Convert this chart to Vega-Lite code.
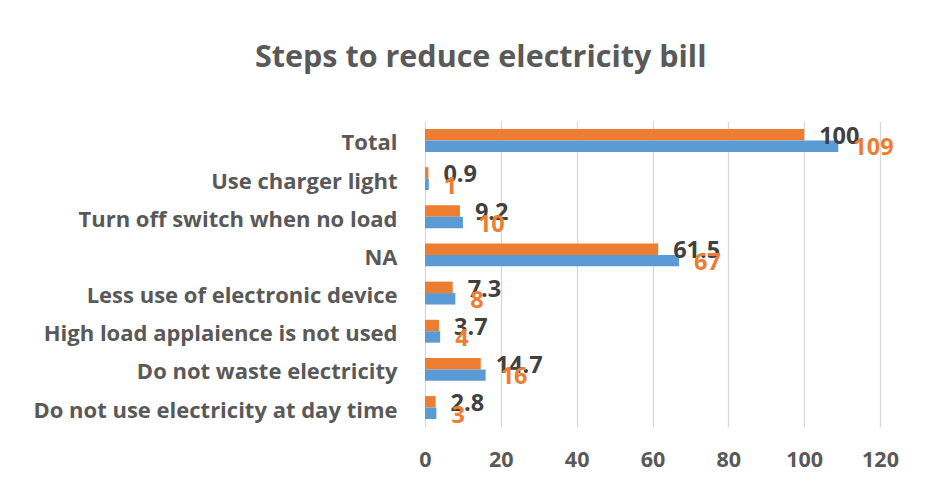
{
  "$schema": "https://vega.github.io/schema/vega-lite/v6.json",
  "width": 455,
  "height": 306,
  "autosize": {"type": "none"},
  "padding": {"left": 425, "top": 121, "right": 56, "bottom": 68},
  "background": "white",
  "config": {"view": {"stroke": null}},
  "title": {
    "text": "Steps to reduce electricity bill",
    "font": "Open Sans",
    "fontSize": 30.5,
    "fontWeight": "bold",
    "color": "#595959",
    "anchor": "middle",
    "frame": "bounds",
    "offset": 48,
    "dx": 15
  },
  "data": {
    "values": [
      {"category": "Total", "series": "Percent", "value": 100},
      {"category": "Total", "series": "Count", "value": 109},
      {"category": "Use charger light", "series": "Percent", "value": 0.9},
      {"category": "Use charger light", "series": "Count", "value": 1},
      {"category": "Turn off switch when no load", "series": "Percent", "value": 9.2},
      {"category": "Turn off switch when no load", "series": "Count", "value": 10},
      {"category": "NA", "series": "Percent", "value": 61.5},
      {"category": "NA", "series": "Count", "value": 67},
      {"category": "Less use of electronic device", "series": "Percent", "value": 7.3},
      {"category": "Less use of electronic device", "series": "Count", "value": 8},
      {"category": "High load applaience is not used", "series": "Percent", "value": 3.7},
      {"category": "High load applaience is not used", "series": "Count", "value": 4},
      {"category": "Do not waste electricity", "series": "Percent", "value": 14.7},
      {"category": "Do not waste electricity", "series": "Count", "value": 16},
      {"category": "Do not use electricity at day time", "series": "Percent", "value": 2.8},
      {"category": "Do not use electricity at day time", "series": "Count", "value": 3}
    ]
  },
  "encoding": {
    "y": {
      "field": "category",
      "type": "nominal",
      "sort": ["Total", "Use charger light", "Turn off switch when no load", "NA", "Less use of electronic device", "High load applaience is not used", "Do not waste electricity", "Do not use electricity at day time"],
      "scale": {"paddingInner": 0.4, "paddingOuter": 0.21},
      "axis": {
        "title": null,
        "ticks": false,
        "domain": false,
        "labelFont": "Open Sans",
        "labelFontSize": 22,
        "labelFontWeight": "bold",
        "labelColor": "#595959",
        "labelPadding": 28,
        "labelLimit": 420,
        "labelOffset": 3
      }
    },
    "x": {
      "field": "value",
      "type": "quantitative",
      "scale": {"domain": [0, 120]},
      "axis": {
        "title": null,
        "values": [0, 20, 40, 60, 80, 100, 120],
        "grid": true,
        "gridColor": "#D9D9D9",
        "gridWidth": 1.3,
        "domain": false,
        "ticks": false,
        "labelFont": "Open Sans",
        "labelFontSize": 21.5,
        "labelFontWeight": "bold",
        "labelColor": "#595959",
        "labelPadding": 22,
        "labelFlush": false
      }
    }
  },
  "layer": [
    {
      "mark": {"type": "bar"},
      "encoding": {
        "yOffset": {"field": "series", "type": "nominal", "sort": ["Percent", "Count"], "scale": {"paddingInner": 0, "paddingOuter": 0}},
        "color": {"field": "series", "type": "nominal", "scale": {"domain": ["Percent", "Count"], "range": ["#ED7D31", "#5B9BD5"]}, "legend": null}
      }
    },
    {
      "transform": [{"filter": "datum.series === 'Percent'"}],
      "mark": {"type": "text", "align": "left", "baseline": "middle", "dx": 15, "dy": -3.5, "font": "Open Sans", "fontSize": 23.5, "fontWeight": "bold", "color": "#404040"},
      "encoding": {"text": {"field": "value", "type": "quantitative"}}
    },
    {
      "transform": [{"filter": "datum.series === 'Count'"}],
      "mark": {"type": "text", "align": "left", "baseline": "middle", "dx": 15, "dy": 8, "font": "Open Sans", "fontSize": 23.5, "fontWeight": "bold", "color": "#ED7D31"},
      "encoding": {"text": {"field": "value", "type": "quantitative"}}
    }
  ]
}
